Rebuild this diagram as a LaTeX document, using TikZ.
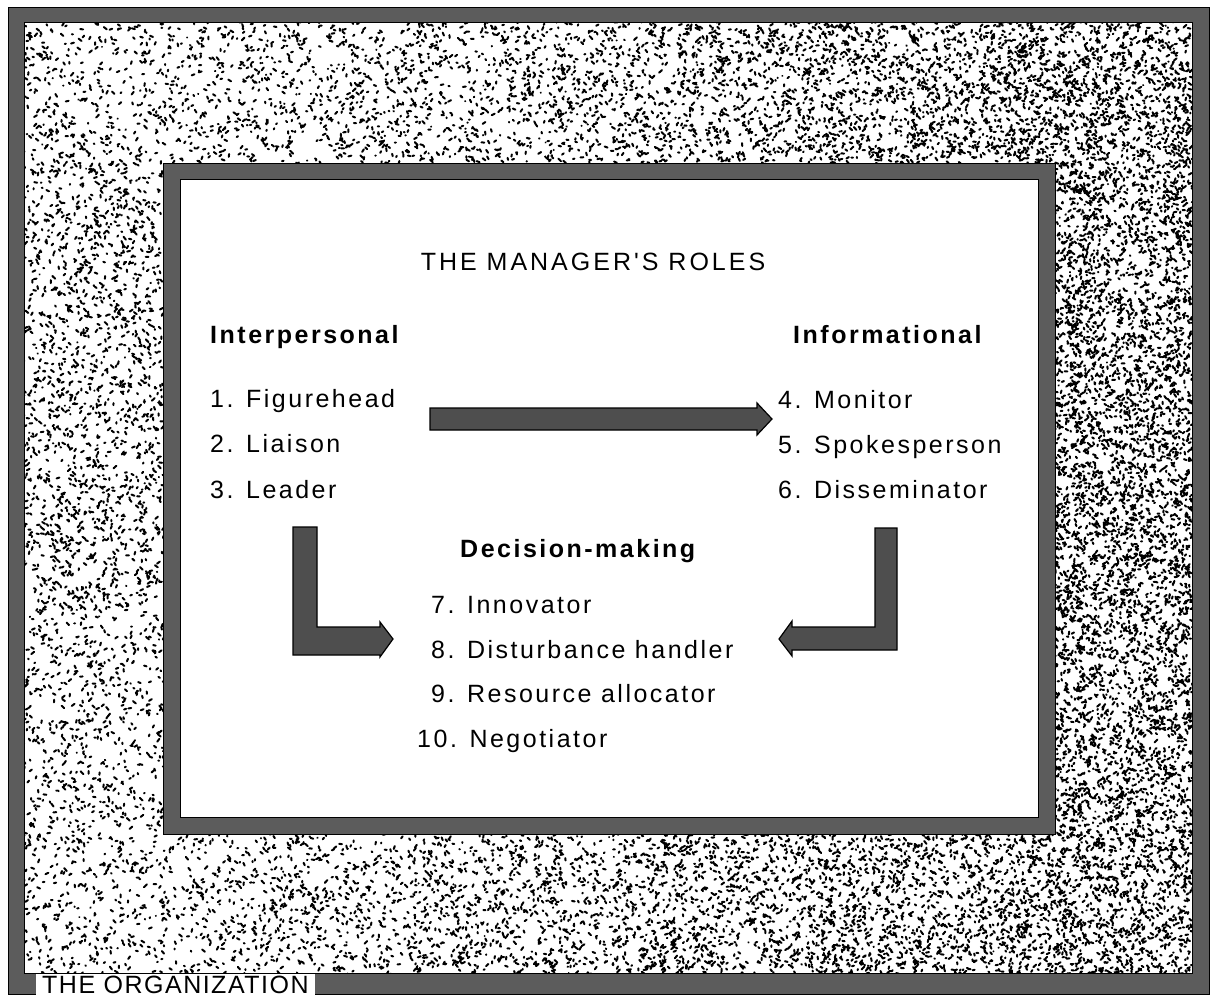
\documentclass[tikz,border=0pt]{standalone}
\usepackage{fontspec}
\newfontfamily\rolefont[LetterSpace=10]{Liberation Sans}
\newfontfamily\titlefont[LetterSpace=12]{Liberation Sans}
\newfontfamily\orgfont[LetterSpace=6]{Liberation Sans}

\definecolor{bandgray}{HTML}{5C5C5C}
\definecolor{arrowgray}{HTML}{4E4E4E}

\tikzset{
  band/.style={fill=bandgray, draw=black, line width=1pt, even odd rule},
  speck/.style={draw=black, line width=2pt, line cap=round},
  roleitem/.style={anchor=base west, inner sep=0pt, font=\rolefont\fontsize{25}{30}\selectfont},
  rolehead/.style={anchor=base west, inner sep=0pt, font=\rolefont\bfseries\fontsize{25}{30}\selectfont},
  blockarrow/.style={fill=arrowgray, draw=black, line width=1.2pt, line join=miter},
}

% random stipple inside a rectangle: x0, y0, width, height, count
\newcommand{\specklepatch}[5]{%
  \path[speck] foreach \k in {1,...,#5}{
    ({#1+#3*rnd},{#2+#4*rnd}) -- ++({3*rand},{3*rand})
  };}

\begin{document}
\begin{tikzpicture}[x=1pt, y=-1pt]
  \pgfmathsetseed{4711}
  \useasboundingbox (0,0) rectangle (1211,997);
  \fill[white] (0,0) rectangle (1211,997);

  % stippled organisation field, denser towards the right
  \begin{scope}
    \clip (24,22) rectangle (1192,974);
    % top strip
    \specklepatch{24}{22}{195}{141}{480}
    \specklepatch{219}{22}{195}{141}{560}
    \specklepatch{414}{22}{195}{141}{640}
    \specklepatch{609}{22}{195}{141}{800}
    \specklepatch{804}{22}{195}{141}{1050}
    \specklepatch{999}{22}{193}{141}{1250}
    % left strip
    \specklepatch{24}{163}{139}{224}{760}
    \specklepatch{24}{387}{139}{224}{780}
    \specklepatch{24}{611}{139}{223}{560}
    % right strip
    \specklepatch{1055}{163}{137}{224}{1450}
    \specklepatch{1055}{387}{137}{224}{1550}
    \specklepatch{1055}{611}{137}{223}{1350}
    % bottom strip
    \specklepatch{24}{834}{195}{140}{460}
    \specklepatch{219}{834}{195}{140}{560}
    \specklepatch{414}{834}{195}{140}{720}
    \specklepatch{609}{834}{195}{140}{880}
    \specklepatch{804}{834}{195}{140}{1020}
    \specklepatch{999}{834}{193}{140}{1200}
  \end{scope}

  % outer frame
  \path[band] (8,7) rectangle (1209,994) (24,22) rectangle (1192,973);

  % inner frame with white panel
  \path[band] (163,163) rectangle (1055,834) (180,179) rectangle (1038,817);
  \fill[white] (180.5,179.5) rectangle (1037.5,816.5);

  % caption on the bottom edge
  \node[anchor=base west, fill=white, inner xsep=6pt, inner ysep=2pt,
        font=\orgfont\fontsize{25}{30}\selectfont] (org) at (36,993) {THE ORGANIZATION};

  % title
  \node[anchor=base, inner sep=0pt, font=\titlefont\fontsize{25}{30}\selectfont] (title) at (593,270) {THE MANAGER'S ROLES};

  % interpersonal roles
  \node[rolehead] (inter) at (210,343) {Interpersonal};
  \node[roleitem] (r1) at (210,407) {1. Figurehead};
  \node[roleitem] (r2) at (210,452) {2. Liaison};
  \node[roleitem] (r3) at (210,498) {3. Leader};

  % informational roles
  \node[rolehead] (info) at (793,343) {Informational};
  \node[roleitem] (r4) at (778,408) {4. Monitor};
  \node[roleitem] (r5) at (778,453) {5. Spokesperson};
  \node[roleitem] (r6) at (778,498) {6. Disseminator};

  % decisional roles
  \node[rolehead] (dec) at (460,557) {Decision-making};
  \node[roleitem] (r7) at (431,613) {7. Innovator};
  \node[roleitem] (r8) at (431,658) {8. Disturbance handler};
  \node[roleitem] (r9) at (431,702) {9. Resource allocator};
  \node[roleitem] (r10) at (417,747) {10. Negotiator};

  % interpersonal -> informational
  \path[blockarrow] (430,408) -- (757,408) -- (757,403) -- (772,419)
    -- (757,435) -- (757,430) -- (430,430) -- cycle;

  % interpersonal -> decision-making
  \path[blockarrow] (293,527) -- (317,527) -- (317,627) -- (380,627)
    -- (380,622) -- (393,639) -- (380,657) -- (380,655) -- (293,655) -- cycle;

  % informational -> decision-making
  \path[blockarrow] (897,528) -- (875,528) -- (875,627) -- (792,627)
    -- (792,621) -- (779,639) -- (792,656) -- (792,650) -- (897,650) -- cycle;
\end{tikzpicture}
\end{document}
